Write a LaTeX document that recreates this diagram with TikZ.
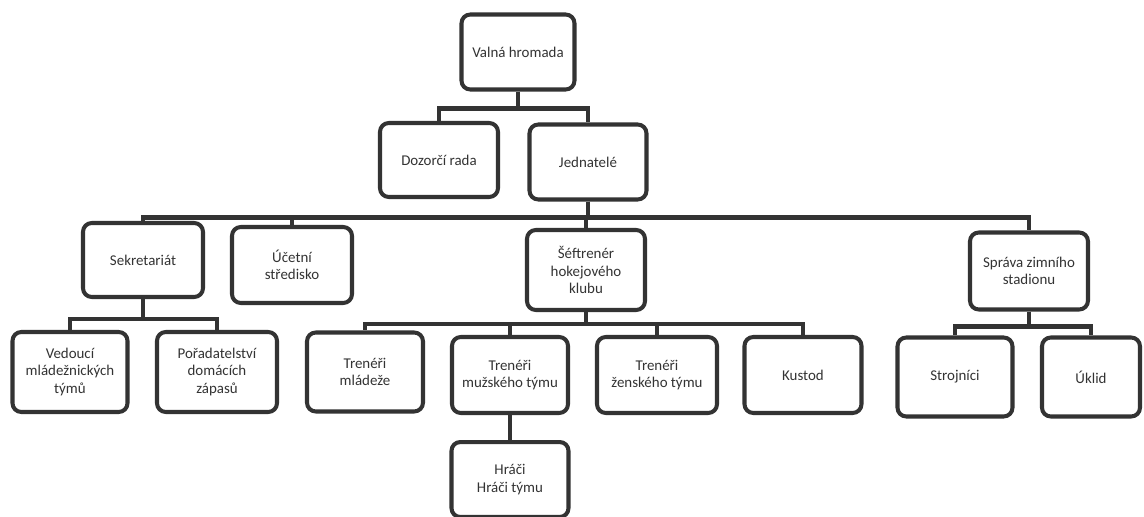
\documentclass[tikz,border=0pt]{standalone}
\usepackage{fontspec}
\setsansfont{Carlito}
\usetikzlibrary{positioning}
\definecolor{ink}{HTML}{333333}

\begin{document}
\begin{tikzpicture}
      [ x=0.02cm, y=-0.02cm
        , every node/.style={font=\sffamily\fontsize{8.5}{10}\selectfont, text=ink}
        , unit/.style={draw=ink, line width=2.3pt, rounded corners=5pt, fill=white,
            align=center, minimum width=2.34cm, minimum height=1.54cm, inner sep=2pt}
        , link/.style={draw=ink, line width=2.3pt}
      ]
      \useasboundingbox (0,0) rectangle (1144,517);

      \node (valna) [unit, minimum width=2.26cm, minimum height=1.5cm] at (518,52) {Valná hromada};
      \node (dozor) [unit, minimum width=2.36cm, minimum height=1.48cm] at (439,160) {Dozorčí rada};
      \node (jedn) [unit, minimum height=1.5cm] at (588,162) {Jednatelé};

      \node (sekr) [unit, minimum width=2.4cm, minimum height=1.48cm] at (143,260) {Sekretariát};
      \node (ucet) [unit, minimum width=2.4cm, minimum height=1.52cm] at (292,265) {Účetní\\středisko};
      \node (seft) [unit, minimum width=2.36cm, minimum height=1.6cm] at (586,270) {Šéftrenér\\hokejového\\klubu};
      \node (sprava) [unit, minimum width=2.36cm] at (1029,271) {Správa zimního\\stadionu};

      \node (vedouci) [unit, minimum width=2.3cm, minimum height=1.6cm] at (70,372) {Vedoucí\\mládežnických\\týmů};
      \node (porad) [unit, minimum width=2.4cm, minimum height=1.6cm] at (217,372) {Pořadatelství\\domácích\\zápasů};
      \node (trmlad) [unit, minimum width=2.32cm, minimum height=1.58cm] at (365,372) {Trenéři\\mládeže};
      \node (trmuz) [unit, minimum width=2.32cm, minimum height=1.52cm] at (510,375) {Trenéři\\mužského týmu};
      \node (trzen) [unit, minimum width=2.4cm, minimum height=1.52cm] at (657,375) {Trenéři\\ženského týmu};
      \node (kustod) [unit, minimum width=2.34cm, minimum height=1.52cm] at (803,375) {Kustod};
      \node (stroj) [unit, minimum width=2.3cm, minimum height=1.58cm] at (955,377) {Strojníci};
      \node (uklid) [unit, minimum width=1.96cm, minimum height=1.58cm] at (1091,377) {Úklid};
      \node (hraci) [unit, minimum width=2.34cm, minimum height=1.5cm, below=0.5cm of trmuz] {Hráči\\Hráči týmu};

      % top levels
      \draw[link] (valna.south) -- ++(0,17) -| (dozor.north);
      \draw[link] (valna.south) -- ++(0,17) -| (jedn.north);
      \draw[link] (jedn.south) -- ++(0,16) -| (sekr.north);
      \draw[link] (jedn.south) -- ++(0,16) -| (ucet.north);
      \draw[link] (jedn.south) -- ++(0,16) -| (seft.north);
      \draw[link] (jedn.south) -- ++(0,16) -| (sprava.north);

      % departments
      \draw[link] (sekr.south) -- ++(0,20) -| (vedouci.north);
      \draw[link] (sekr.south) -- ++(0,20) -| (porad.north);
      \draw[link] (seft.south) -- ++(0,12) -| (trmlad.north);
      \draw[link] (seft.south) -- ++(0,12) -| (trmuz.north);
      \draw[link] (seft.south) -- ++(0,12) -| (trzen.north);
      \draw[link] (seft.south) -- ++(0,12) -| (kustod.north);
      \draw[link] (sprava.south) -- ++(0,15) -| (stroj.north);
      \draw[link] (sprava.south) -- ++(0,15) -| (uklid.north);
      \draw[link] (trmuz) -- (hraci);

    \end{tikzpicture}
\end{document}
